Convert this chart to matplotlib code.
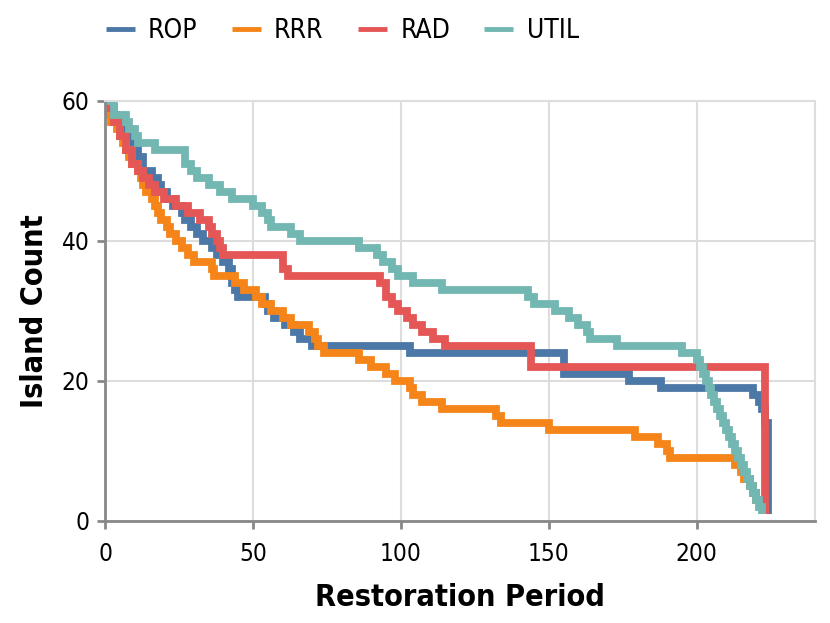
#!/usr/bin/env python3
"""Island count over the restoration period for four restoration strategies."""
import matplotlib

matplotlib.use("Agg")
import matplotlib.pyplot as plt

# step points (restoration period, island count)
ROP_X = [0, 2, 4, 5, 7, 9, 11, 13, 16, 18, 19, 21, 23, 26, 27, 29, 31, 33, 36, 38, 40, 42, 43, 44, 45, 54, 55, 57, 61, 64, 66, 70, 103, 155, 177, 188, 219, 221, 222, 223, 224]
ROP_Y = [60, 58, 57, 56, 55, 54, 52, 50, 49, 48, 47, 46, 45, 44, 43, 42, 41, 40, 39, 38, 37, 36, 34, 33, 32, 31, 30, 29, 28, 27, 26, 25, 24, 21, 20, 19, 18, 17, 16, 14, 1]

RRR_X = [0, 1, 2, 4, 5, 6, 7, 8, 9, 11, 12, 13, 14, 16, 17, 18, 19, 21, 22, 24, 26, 28, 30, 36, 37, 44, 47, 51, 53, 56, 60, 63, 69, 71, 72, 74, 86, 90, 95, 98, 103, 104, 107, 114, 132, 134, 150, 179, 187, 190, 191, 213, 215, 216, 218, 219, 220, 222, 223]
RRR_Y = [60, 58, 57, 56, 55, 54, 53, 52, 51, 50, 49, 48, 47, 46, 45, 44, 43, 42, 41, 40, 39, 38, 37, 36, 35, 34, 33, 32, 31, 30, 29, 28, 27, 26, 25, 24, 23, 22, 21, 20, 19, 18, 17, 16, 15, 14, 13, 12, 11, 10, 9, 8, 7, 6, 5, 4, 3, 2, 1]

RAD_X = [0, 1, 3, 5, 7, 9, 11, 13, 15, 17, 20, 24, 28, 32, 35, 36, 38, 39, 40, 60, 62, 93, 95, 97, 99, 102, 104, 107, 111, 115, 144, 223]
RAD_Y = [60, 59, 57, 55, 53, 51, 50, 49, 48, 47, 46, 45, 44, 43, 42, 41, 40, 39, 38, 36, 35, 34, 32, 31, 30, 29, 28, 27, 26, 25, 22, 1]

UTIL_X = [0, 3, 7, 8, 10, 11, 17, 27, 29, 31, 35, 39, 43, 50, 53, 55, 56, 63, 66, 86, 92, 94, 97, 99, 104, 114, 143, 145, 152, 157, 160, 163, 164, 173, 195, 200, 201, 202, 203, 204, 205, 206, 207, 208, 209, 210, 211, 212, 213, 214, 215, 216, 217, 218, 219, 220, 221, 222]
UTIL_Y = [60, 58, 57, 56, 55, 54, 53, 51, 50, 49, 48, 47, 46, 45, 44, 43, 42, 41, 40, 39, 38, 37, 36, 35, 34, 33, 32, 31, 30, 29, 28, 27, 26, 25, 24, 23, 22, 21, 20, 19, 18, 17, 16, 15, 14, 13, 12, 11, 10, 9, 8, 7, 6, 5, 4, 3, 2, 1]

SERIES = [
    ("ROP", ROP_X, ROP_Y, "#4c78a8"),
    ("RRR", RRR_X, RRR_Y, "#f58518"),
    ("RAD", RAD_X, RAD_Y, "#e45756"),
    ("UTIL", UTIL_X, UTIL_Y, "#72b7b2"),
]

X_TICKS = [0, 50, 100, 150, 200]
Y_TICKS = [0, 20, 40, 60]

plt.rcParams["font.family"] = ["DejaVu Sans"]

W, H = 830, 623
fig = plt.figure(figsize=(W / 100, H / 100), dpi=100)
ax = fig.add_axes([105 / W, (H - 521) / H, (815 - 105) / W, (521 - 101) / H])

for name, xs, ys, color in SERIES:
    ax.plot(xs, ys, drawstyle="steps-post", color=color, linewidth=5.6, label=name,
            solid_joinstyle="miter", solid_capstyle="butt")

ax.set_xlim(0, 240)
ax.set_ylim(0, 60)
ax.set_xticks(X_TICKS)
ax.set_yticks(Y_TICKS)
ax.grid(True, color="#dddddd", linewidth=1.5)
ax.set_axisbelow(True)

for side in ("top", "right"):
    ax.spines[side].set_color("#dddddd")
    ax.spines[side].set_linewidth(1.5)
for side in ("left", "bottom"):
    ax.spines[side].set_color("#888888")
    ax.spines[side].set_linewidth(2)
ax.tick_params(length=6, width=2, color="#888888", labelsize=17.5)
ax.tick_params(axis="x", pad=9)
ax.tick_params(axis="y", pad=5)
for lbl in ax.get_xticklabels() + ax.get_yticklabels():
    lbl.set_fontstretch("condensed")

ax.set_xlabel("Restoration Period", fontsize=22, fontweight="bold", fontstretch="condensed", labelpad=12)
ax.set_ylabel("Island Count", fontsize=22, fontweight="bold", fontstretch="condensed", labelpad=9)

leg = fig.legend(loc="upper left", bbox_to_anchor=(82 / W, 1 + 6 / H), ncol=4, frameon=False,
                 handlelength=1.1, handletextpad=0.5, columnspacing=1.3,
                 prop={"size": 19, "stretch": "condensed"})
for h in leg.get_lines():
    h.set_linewidth(3.5)

fig.savefig("out.png", dpi=100)
